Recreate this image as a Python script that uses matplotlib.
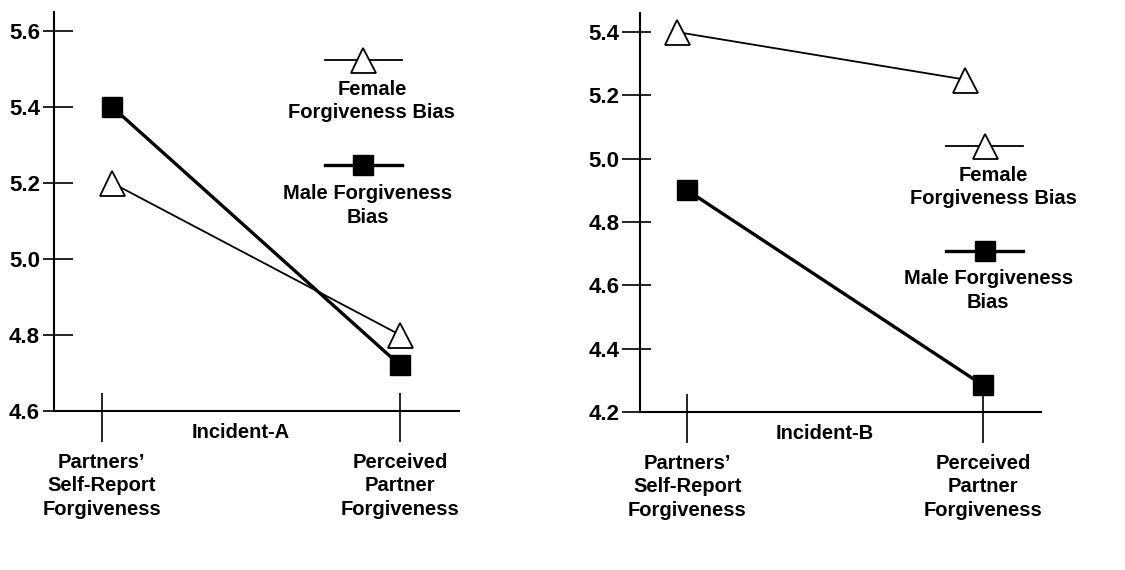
import matplotlib
matplotlib.use("Agg")
import matplotlib.pyplot as plt
from matplotlib.ticker import FixedLocator

plt.rcParams["font.family"] = ["Liberation Sans", "DejaVu Sans"]
plt.rcParams["font.weight"] = "bold"

categories = ["Partners’\nSelf-Report\nForgiveness", "Perceived\nPartner\nForgiveness"]

# Incident-A
a_female = [5.2, 4.8]
a_male = [5.4, 4.72]
a_yticks = [4.6, 4.8, 5.0, 5.2, 5.4, 5.6]

# Incident-B
b_female = [5.4, 5.25]
b_male = [4.9, 4.285]
b_yticks = [4.2, 4.4, 4.6, 4.8, 5.0, 5.2, 5.4]

LABEL_FS = 14.5
TICK_FS = 16

fig = plt.figure(figsize=(11.25, 5.7), dpi=100)
ax_a = fig.add_axes([0.048, 0.279, 0.36, 0.700])
ax_b = fig.add_axes([0.569, 0.277, 0.3564, 0.700])


def draw_panel(ax, female, male, yticks, ylim, fem_x, male_x, title_x,
               title, y_out, y_in, legend):
    ax.plot(fem_x, female, color="black", lw=1.3, marker="^", ms=18,
            mfc="white", mec="black", mew=1.3, zorder=3)
    ax.plot(male_x, male, color="black", lw=2.4, marker="s", ms=14,
            mfc="black", mec="black", zorder=4)

    ax.set_xlim(-0.16, 1.197)
    ax.set_ylim(*ylim)
    for s in ("top", "right"):
        ax.spines[s].set_visible(False)
    for s in ("left", "bottom"):
        ax.spines[s].set_linewidth(1.5)

    ax.xaxis.remove_overlapping_locs = False
    ax.yaxis.remove_overlapping_locs = False
    ax.set_xticks([0, 1])
    ax.set_xticklabels(categories, fontsize=LABEL_FS, fontweight="bold",
                       linespacing=1.3)
    ax.xaxis.set_minor_locator(FixedLocator([0, 1]))
    ax.tick_params(axis="x", which="major", direction="out", length=22,
                   width=1.2, pad=8)
    ax.tick_params(axis="x", which="minor", direction="in", length=13,
                   width=1.2)

    ax.set_yticks(yticks)
    ax.set_yticklabels([f"{v:.1f}" for v in yticks], fontsize=TICK_FS,
                       fontweight="bold")
    ax.yaxis.set_minor_locator(FixedLocator(yticks))
    ax.tick_params(axis="y", which="major", direction="out", length=y_out,
                   width=1.2, pad=2)
    ax.tick_params(axis="y", which="minor", direction="in", length=y_in,
                   width=1.2)

    ax.text(title_x, -0.053, title, transform=ax.get_xaxis_transform(),
            ha="center", va="center", fontsize=LABEL_FS, fontweight="bold")

    # legend drawn as in the original: sample line with marker, text below
    (fx0, fx1, fy, ftx, fty), (mx0, mx1, my, mtx, mty) = legend
    ax.plot([fx0, fx1], [fy, fy], transform=ax.transAxes, color="black",
            lw=1.3, clip_on=False)
    ax.plot([(fx0 + fx1) / 2], [fy], transform=ax.transAxes, marker="^",
            ms=18, mfc="white", mec="black", mew=1.3, clip_on=False)
    ax.text(ftx, fty, "Female\nForgiveness Bias", transform=ax.transAxes,
            ha="center", va="center", fontsize=LABEL_FS, fontweight="bold",
            linespacing=1.3)
    ax.plot([mx0, mx1], [my, my], transform=ax.transAxes, color="black",
            lw=2.4, clip_on=False)
    ax.plot([(mx0 + mx1) / 2], [my], transform=ax.transAxes, marker="s",
            ms=14, mfc="black", mec="black", clip_on=False)
    ax.text(mtx, mty, "Male Forgiveness\nBias", transform=ax.transAxes,
            ha="center", va="center", fontsize=LABEL_FS, fontweight="bold",
            linespacing=1.3)


draw_panel(ax_a, a_female, a_male, a_yticks, (4.6, 5.65),
           [0.035, 1.0], [0.035, 1.0], 0.465, "Incident-A", 8, 14,
           ((0.669, 0.859, 0.880, 0.785, 0.777),
            (0.669, 0.859, 0.617, 0.775, 0.515)))

draw_panel(ax_b, b_female, b_male, b_yticks, (4.2, 5.46),
           [-0.034, 0.94], [0.0, 1.0], 0.465, "Incident-B", 13, 8,
           ((0.764, 0.955, 0.666, 0.880, 0.564),
            (0.764, 0.955, 0.403, 0.868, 0.3045)))

fig.savefig("out.png", dpi=100, facecolor="white")
